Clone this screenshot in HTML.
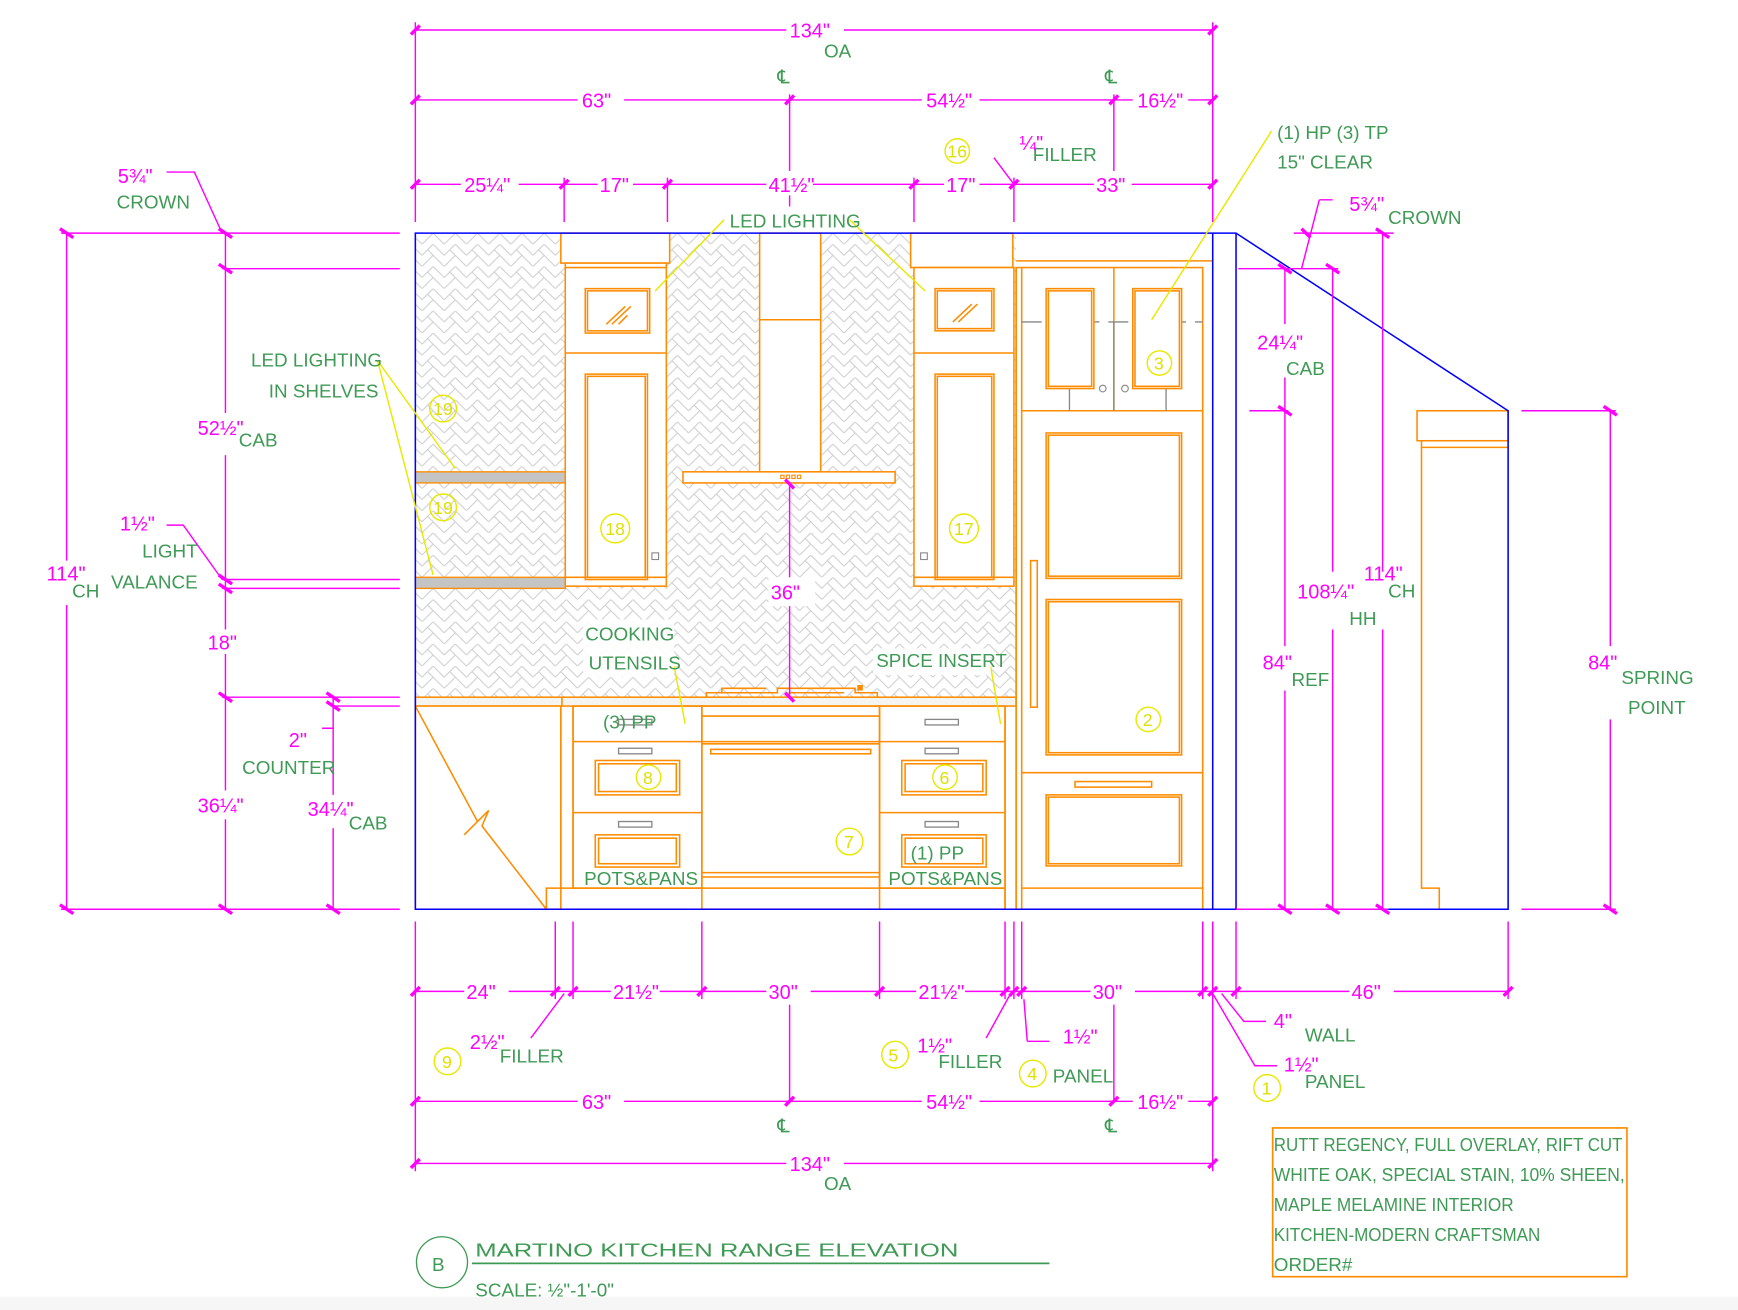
<!DOCTYPE html>
<html><head><meta charset="utf-8"><style>
html,body{margin:0;padding:0;background:#fff;width:1738px;height:1310px;overflow:hidden}
svg{display:block}
.m{stroke:#ff00ff;stroke-width:1.3;fill:none}
.t{stroke:#ff00ff;stroke-width:3;fill:none}
.o{stroke:#ff8c00;stroke-width:1.4;fill:#fff}
.on{stroke:#ff8c00;stroke-width:1.4;fill:none}
.b{stroke:#0000ff;stroke-width:1.4;fill:none}
.y{stroke:#e8e800;stroke-width:1.3;fill:none}
.g{stroke:#888;stroke-width:1.2;fill:none}
text{font-family:"Liberation Sans Narrow","Liberation Sans",sans-serif}
.mt{fill:#ff00ff;font-size:18px}
.gt{fill:#3f9a55;font-size:17px}
.yt{fill:#e0e000;font-size:16px}
</style></head><body>
<svg width="1738" height="1310" viewBox="0 0 1565 1180" preserveAspectRatio="none" xmlns="http://www.w3.org/2000/svg">
<defs>
<pattern id="hb" width="20" height="20" patternUnits="userSpaceOnUse">
<path d="M0 10 L10 0 L20 10 M0 20 L10 10 L20 20 M5 5 L10 10 M15 15 L20 20 M15 5 L10 0" stroke="#cfcfcf" stroke-width="1" fill="none"/>
</pattern>
</defs>
<rect width="1565" height="1180" fill="#fff"/>
<rect x="0" y="1168" width="1565" height="12" fill="#f6f6f6"/>

<rect x="374" y="210" width="541" height="420" fill="url(#hb)"/>

<rect x="374" y="425" width="135" height="10" fill="#c4c4c4" stroke="#ff8c00" stroke-width="1.2"/>
<rect x="374" y="520" width="135" height="10" fill="#c4c4c4" stroke="#ff8c00" stroke-width="1.2"/>

<rect class="o" x="505" y="210" width="98" height="27"/>
<rect class="o" x="509" y="237" width="91" height="291"/>
<line class="on" x1="509" y1="241" x2="600" y2="241"/>
<line class="on" x1="509" y1="318" x2="600" y2="318"/>
<line class="on" x1="509" y1="520" x2="600" y2="520"/>
<rect class="on" x="527" y="260" width="58" height="40"/>
<rect class="on" x="529" y="262" width="54" height="36"/>
<path class="on" d="M546 292 L563 276 M551 292 L568 276 M557 292 L565 284"/>
<rect class="on" x="527" y="337" width="56" height="185"/>
<rect class="on" x="529" y="339" width="52" height="181"/>
<rect x="587" y="498" width="6" height="6" fill="none" stroke="#888" stroke-width="1"/>

<rect class="o" x="820" y="210" width="92" height="31"/>
<rect class="o" x="823" y="241" width="90" height="287"/>
<line class="on" x1="823" y1="318" x2="913" y2="318"/>
<line class="on" x1="823" y1="520" x2="913" y2="520"/>
<rect class="on" x="842" y="260" width="53" height="38"/>
<rect class="on" x="844" y="262" width="49" height="34"/>
<path class="on" d="M858 290 L875 274 M863 290 L880 274"/>
<rect class="on" x="842" y="337" width="53" height="185"/>
<rect class="on" x="844" y="339" width="49" height="181"/>
<rect x="829" y="498" width="6" height="6" fill="none" stroke="#888" stroke-width="1"/>

<rect class="o" x="684" y="210" width="55" height="215"/>
<line class="on" x1="684" y1="288" x2="739" y2="288"/>
<rect class="o" x="615" y="425" width="191" height="10"/>
<path d="M703 428h3v3h-3zM708 428h3v3h-3zM713 428h3v3h-3zM718 428h3v3h-3z" fill="none" stroke="#ff8c00" stroke-width="1"/>

<rect x="374" y="628" width="541" height="8" fill="#f4f4f0" stroke="#ff8c00" stroke-width="1.4"/>
<line class="on" x1="506" y1="628" x2="506" y2="636"/>
<path class="on" d="M636 628 L636 624 L700 624 L700 620 L770 620 L770 624 L790 624 L790 628 M650 624 L650 620 L690 620 M710 624 L760 624"/>
<rect x="772" y="617" width="5" height="5" fill="#ff8c00"/>

<rect class="o" x="374" y="636" width="131" height="183"/>
<path class="on" d="M374 636 L430 740 L418 752 L440 730 L434 744 L492 819"/>
<line class="on" x1="505" y1="636" x2="505" y2="800"/>
<line class="on" x1="516" y1="636" x2="516" y2="800"/>
<rect class="on" x="516" y="636" width="116" height="164"/>
<line class="on" x1="516" y1="668" x2="632" y2="668"/>
<line class="on" x1="516" y1="732" x2="632" y2="732"/>
<rect class="g" x="557" y="674" width="30" height="5"/>
<rect class="on" x="536" y="685" width="76" height="31"/>
<rect class="on" x="539" y="688" width="70" height="25"/>
<rect class="g" x="557" y="740" width="30" height="5"/>
<rect class="on" x="536" y="752" width="76" height="29"/>
<rect class="on" x="539" y="755" width="70" height="23"/>
<rect class="g" x="557" y="648" width="30" height="5"/>
<rect class="on" x="632" y="636" width="160" height="183"/>
<line class="on" x1="632" y1="645" x2="792" y2="645"/>
<line class="on" x1="632" y1="668" x2="792" y2="668"/>
<line class="on" x1="632" y1="670" x2="792" y2="670"/>
<rect class="on" x="640" y="675" width="144" height="4"/>
<line class="on" x1="632" y1="786" x2="792" y2="786"/>
<line class="on" x1="632" y1="790" x2="792" y2="790"/>
<rect class="on" x="792" y="636" width="113" height="164"/>
<line class="on" x1="792" y1="668" x2="905" y2="668"/>
<line class="on" x1="792" y1="732" x2="905" y2="732"/>
<rect class="g" x="833" y="648" width="30" height="5"/>
<rect class="g" x="833" y="674" width="30" height="5"/>
<rect class="on" x="812" y="685" width="76" height="31"/>
<rect class="on" x="815" y="688" width="70" height="25"/>
<rect class="g" x="833" y="740" width="30" height="5"/>
<rect class="on" x="812" y="752" width="76" height="29"/>
<rect class="on" x="815" y="755" width="70" height="23"/>
<rect class="on" x="492" y="800" width="413" height="19"/>
<line class="on" x1="905" y1="636" x2="905" y2="819"/>
<line class="on" x1="915" y1="241" x2="915" y2="819"/>

<line class="on" x1="915" y1="235" x2="1092" y2="235"/>
<rect class="on" x="915" y="241" width="168" height="578"/>
<line class="on" x1="920" y1="241" x2="920" y2="819"/>
<line class="on" x1="1003" y1="241" x2="1003" y2="370"/>
<line class="on" x1="920" y1="370" x2="1083" y2="370"/>
<path class="g" d="M920 290 H1083" stroke-dasharray="18 8"/>
<path class="g" d="M963 290 V370 M1050 290 V370 M1003 290 V370"/>
<rect class="o" x="942" y="260" width="43" height="90"/>
<rect class="on" x="944" y="262" width="39" height="86"/>
<rect class="o" x="1020" y="260" width="44" height="90"/>
<rect class="on" x="1022" y="262" width="40" height="86"/>
<circle cx="993" cy="350" r="3" fill="none" stroke="#888"/>
<circle cx="1013" cy="350" r="3" fill="none" stroke="#888"/>
<rect class="on" x="942" y="390" width="122" height="131"/>
<rect class="on" x="944" y="392" width="118" height="127"/>
<rect class="on" x="942" y="540" width="122" height="140"/>
<rect class="on" x="944" y="542" width="118" height="136"/>
<rect class="on" x="928" y="505" width="6" height="132"/>
<line class="on" x1="920" y1="696" x2="1083" y2="696"/>
<rect class="on" x="968" y="704" width="69" height="5"/>
<rect class="on" x="942" y="716" width="122" height="64"/>
<rect class="on" x="944" y="718" width="118" height="60"/>
<line class="on" x1="920" y1="800" x2="1083" y2="800"/>

<rect class="o" x="1276" y="370" width="82" height="27"/>
<path class="on" d="M1280 397 V403 H1358 M1280 403 V800 H1296 V819"/>

<path class="b" d="M374 210 H1113 L1358 370 V819 H374 Z"/>
<line class="b" x1="1092" y1="210" x2="1092" y2="819"/>
<line class="b" x1="1113" y1="210" x2="1113" y2="819"/>

<path class="m" d="M374 20 V200 M1092 20 V200 M374 27 H1092 M374 90 H1092 M711 85 V200 M1003 85 V165 M374 166 H1092 M508 160 V200 M601 160 V200 M823 160 V200 M913 160 V200"/>
<path class="t" d="M370 31 L378 23 M1088 31 L1096 23 M370 94 L378 86 M707 94 L715 86 M999 94 L1007 86 M1088 94 L1096 86 M370 170 L378 162 M504 170 L512 162 M597 170 L605 162 M819 170 L827 162 M909 170 L917 162 M1088 170 L1096 162"/>
<rect x="708" y="14" width="52" height="24" fill="#fff"/>
<text class="mt" x="711" y="34">134"</text><text class="gt" x="742" y="52">OA</text>
<rect x="520" y="78" width="42" height="22" fill="#fff"/><text class="mt" x="524" y="97">63"</text>
<rect x="830" y="78" width="52" height="22" fill="#fff"/><text class="mt" x="834" y="97">54½"</text>
<rect x="1020" y="78" width="50" height="22" fill="#fff"/><text class="mt" x="1024" y="97">16½"</text>
<text class="gt" x="700" y="75">℄</text><text class="gt" x="995" y="75">℄</text>
<rect x="415" y="154" width="52" height="22" fill="#fff"/><text class="mt" x="418" y="173">25¼"</text>
<rect x="538" y="154" width="32" height="22" fill="#fff"/><text class="mt" x="540" y="173">17"</text>
<rect x="690" y="154" width="42" height="22" fill="#fff"/><text class="mt" x="692" y="173">41½"</text>
<rect x="850" y="154" width="32" height="22" fill="#fff"/><text class="mt" x="852" y="173">17"</text>
<rect x="985" y="154" width="34" height="22" fill="#fff"/><text class="mt" x="987" y="173">33"</text>
<text class="gt" x="930" y="145">FILLER</text><text class="mt" x="918" y="135">¼"</text>
<path class="m" d="M895 142 L913 166"/>
<text class="yt" x="853" y="142">16</text><circle class="y" cx="862" cy="136" r="11"/>

<path class="m" d="M55 210 H360 M200 242 H360 M200 522 H360 M200 530 H360 M200 628 H360 M300 636 H360 M55 819 H360 M60 210 V819 M203 210 V819 M300 628 V819 M150 155 H175 L200 210 M150 473 H165 L200 522 M290 656 H300"/>
<path class="t" d="M54 206 L66 214 M54 815 L66 823 M197 206 L209 214 M197 238 L209 246 M197 518 L209 526 M197 526 L209 534 M197 624 L209 632 M197 815 L209 823 M294 624 L306 632 M294 632 L306 640 M294 815 L306 823"/>
<rect x="40" y="505" width="50" height="40" fill="#fff"/>
<text class="mt" x="42" y="523">114"</text><text class="gt" x="65" y="538">CH</text>
<text class="mt" x="106" y="165">5¾"</text><text class="gt" x="105" y="188">CROWN</text>
<rect x="176" y="372" width="75" height="38" fill="#fff"/>
<text class="mt" x="178" y="392">52½"</text><text class="gt" x="215" y="402">CAB</text>
<text class="mt" x="108" y="478">1½"</text><text class="gt" x="128" y="502">LIGHT</text><text class="gt" x="100" y="530">VALANCE</text>
<rect x="185" y="567" width="36" height="22" fill="#fff"/><text class="mt" x="187" y="585">18"</text>
<rect x="176" y="712" width="50" height="26" fill="#fff"/><text class="mt" x="178" y="732">36¼"</text>
<rect x="276" y="716" width="75" height="30" fill="#fff"/><text class="mt" x="277" y="735">34¼"</text><text class="gt" x="314" y="747">CAB</text>
<text class="mt" x="260" y="673">2"</text><text class="gt" x="218" y="697">COUNTER</text>

<path class="m" d="M1115 242 H1205 M1125 370 H1160 M1370 370 H1455 M1370 819 H1455 M1113 819 H1250 M1157 242 V819 M1200 242 V819 M1245 210 V819 M1450 370 V819 M1165 210 H1255 M1188 180 H1200 M1188 180 L1172 242"/>
<path class="t" d="M1151 238 L1163 246 M1151 366 L1163 374 M1151 815 L1163 823 M1194 238 L1206 246 M1194 815 L1206 823 M1239 206 L1251 214 M1239 815 L1251 823 M1444 366 L1456 374 M1444 815 L1456 823 M1172 206 L1180 214"/>
<rect x="1128" y="292" width="70" height="48" fill="#fff"/>
<text class="mt" x="1132" y="315">24¼"</text><text class="gt" x="1158" y="338">CAB</text>
<text class="mt" x="1215" y="190">5¾"</text><text class="gt" x="1250" y="202">CROWN</text>
<rect x="1135" y="582" width="56" height="40" fill="#fff"/>
<text class="mt" x="1137" y="603">84"</text><text class="gt" x="1163" y="618">REF</text>
<rect x="1166" y="515" width="110" height="52" fill="#fff"/>
<text class="mt" x="1168" y="539">108¼"</text><text class="gt" x="1215" y="563">HH</text>
<text class="mt" x="1228" y="523">114"</text><text class="gt" x="1250" y="538">CH</text>
<rect x="1428" y="582" width="90" height="66" fill="#fff"/>
<text class="mt" x="1430" y="603">84"</text><text class="gt" x="1460" y="616">SPRING</text><text class="gt" x="1466" y="643">POINT</text>

<path class="m" d="M374 830 V1055 M1092 830 V1055 M500 830 V900 M516 830 V900 M632 830 V900 M792 830 V900 M905 830 V900 M913 830 V900 M920 830 V900 M1083 830 V900 M1092 830 V900 M1113 830 V900 M1358 830 V900 M711 900 V992 M1003 900 V992 M374 893 H1358 M374 992 H1092 M374 1048 H1092"/>
<path class="t" d="M370 897 L378 889 M496 897 L504 889 M512 897 L520 889 M628 897 L636 889 M788 897 L796 889 M901 897 L909 889 M909 897 L917 889 M916 897 L924 889 M1079 897 L1087 889 M1088 897 L1096 889 M1109 897 L1117 889 M1354 897 L1362 889 M370 996 L378 988 M707 996 L715 988 M999 996 L1007 988 M1088 996 L1096 988 M370 1052 L378 1044 M1088 1052 L1096 1044"/>
<rect x="418" y="883" width="40" height="22" fill="#fff"/><text class="mt" x="420" y="900">24"</text>
<rect x="550" y="883" width="44" height="22" fill="#fff"/><text class="mt" x="552" y="900">21½"</text>
<rect x="690" y="883" width="40" height="22" fill="#fff"/><text class="mt" x="692" y="900">30"</text>
<rect x="825" y="883" width="44" height="22" fill="#fff"/><text class="mt" x="827" y="900">21½"</text>
<rect x="982" y="883" width="40" height="22" fill="#fff"/><text class="mt" x="984" y="900">30"</text>
<rect x="1215" y="883" width="40" height="22" fill="#fff"/><text class="mt" x="1217" y="900">46"</text>
<rect x="520" y="982" width="42" height="22" fill="#fff"/><text class="mt" x="524" y="999">63"</text>
<rect x="830" y="982" width="52" height="22" fill="#fff"/><text class="mt" x="834" y="999">54½"</text>
<rect x="1020" y="982" width="50" height="22" fill="#fff"/><text class="mt" x="1024" y="999">16½"</text>
<text class="gt" x="700" y="1020">℄</text><text class="gt" x="995" y="1020">℄</text>
<rect x="708" y="1036" width="52" height="24" fill="#fff"/>
<text class="mt" x="711" y="1055">134"</text><text class="gt" x="742" y="1072">OA</text>
<path class="m" d="M478 935 L508 895 M888 935 L910 895 M925 938 H945 M922 900 L925 938 M1100 895 L1120 920 H1140 M1092 895 L1130 960 H1150"/>
<text class="mt" x="423" y="945">2½"</text><text class="gt" x="450" y="957">FILLER</text>
<circle class="y" cx="403" cy="956" r="12"/><text class="yt" x="398" y="962">9</text>
<text class="mt" x="826" y="948">1½"</text><text class="gt" x="845" y="962">FILLER</text>
<circle class="y" cx="806" cy="950" r="12"/><text class="yt" x="800" y="956">5</text>
<text class="mt" x="957" y="940">1½"</text><text class="gt" x="948" y="975">PANEL</text>
<circle class="y" cx="930" cy="967" r="12"/><text class="yt" x="925" y="973">4</text>
<text class="mt" x="1147" y="926">4"</text><text class="gt" x="1175" y="938">WALL</text>
<text class="mt" x="1156" y="965">1½"</text><text class="gt" x="1175" y="980">PANEL</text>
<circle class="y" cx="1141" cy="980" r="12"/><text class="yt" x="1136" y="986">1</text>

<path class="m" d="M711 436 V628"/>
<path class="t" d="M707 432 L715 440 M707 624 L715 632"/>
<rect x="692" y="520" width="42" height="26" fill="#fff"/><text class="mt" x="694" y="540">36"</text>

<path class="y" d="M652 198 L590 262 M765 198 L833 262 M340 325 L410 422 M340 325 L390 518 M1145 118 L1037 288 M607 600 L617 652 M892 600 L901 652"/>
<rect x="655" y="186" width="108" height="22" fill="#fff"/>
<text class="gt" x="657" y="205">LED LIGHTING</text>
<text class="gt" x="226" y="330">LED LIGHTING</text><text class="gt" x="242" y="358">IN SHELVES</text>
<rect x="525" y="558" width="82" height="52" fill="#fff" fill-opacity="0.9"/>
<text class="gt" x="527" y="577">COOKING</text><text class="gt" x="530" y="603">UTENSILS</text>
<rect x="786" y="584" width="106" height="24" fill="#fff" fill-opacity="0.9"/>
<text class="gt" x="789" y="601">SPICE INSERT</text>
<text class="gt" x="1150" y="125">(1) HP  (3) TP</text><text class="gt" x="1150" y="152">15" CLEAR</text>
<text class="gt" x="543" y="656">(3) PP</text>
<text class="gt" x="820" y="774">(1) PP</text>
<text class="gt" x="526" y="797" font-size="15">POTS&amp;PANS</text>
<text class="gt" x="800" y="797" font-size="15">POTS&amp;PANS</text>

<circle class="y" cx="399" cy="368" r="12"/><text class="yt" x="390" y="374">19</text>
<circle class="y" cx="399" cy="457" r="12"/><text class="yt" x="390" y="463">19</text>
<circle class="y" cx="554" cy="476" r="13"/><text class="yt" x="545" y="482">18</text>
<circle class="y" cx="868" cy="476" r="13"/><text class="yt" x="859" y="482">17</text>
<circle class="y" cx="1044" cy="327" r="11"/><text class="yt" x="1039" y="333">3</text>
<circle class="y" cx="1034" cy="648" r="11"/><text class="yt" x="1029" y="654">2</text>
<circle class="y" cx="584" cy="700" r="11"/><text class="yt" x="579" y="706">8</text>
<circle class="y" cx="851" cy="700" r="11"/><text class="yt" x="846" y="706">6</text>
<circle class="y" cx="765" cy="758" r="12"/><text class="yt" x="760" y="764">7</text>

<circle cx="398" cy="1137" r="23" fill="none" stroke="#3f9a55" stroke-width="1.2"/>
<text class="gt" x="389" y="1145" font-size="22">B</text>
<text class="gt" x="428" y="1132" font-size="28" textLength="435" lengthAdjust="spacingAndGlyphs">MARTINO KITCHEN RANGE ELEVATION</text>
<line x1="425" y1="1138" x2="945" y2="1138" stroke="#3f9a55" stroke-width="1.5"/>
<text class="gt" x="428" y="1168" font-size="22">SCALE: ½"-1'-0"</text>

<rect x="1146" y="1016" width="319" height="134" fill="none" stroke="#ff8c00" stroke-width="1.5"/>
<text class="gt" x="1147" y="1037" textLength="314" lengthAdjust="spacingAndGlyphs">RUTT REGENCY, FULL OVERLAY, RIFT CUT</text>
<text class="gt" x="1147" y="1064" textLength="316" lengthAdjust="spacingAndGlyphs">WHITE OAK, SPECIAL STAIN, 10% SHEEN,</text>
<text class="gt" x="1147" y="1091" textLength="216" lengthAdjust="spacingAndGlyphs">MAPLE MELAMINE INTERIOR</text>
<text class="gt" x="1147" y="1118" textLength="240" lengthAdjust="spacingAndGlyphs">KITCHEN-MODERN CRAFTSMAN</text>
<text class="gt" x="1147" y="1145">ORDER#</text>
</svg>
</body></html>
